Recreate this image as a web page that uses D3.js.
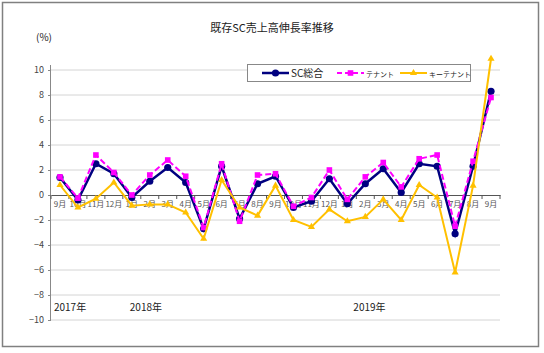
<!DOCTYPE html>
<html>
<head>
<meta charset="utf-8">
<script src="https://cdn.jsdelivr.net/npm/d3@7"></script>
<style>
  body { margin: 0; background: #fff; }
  svg text { font-family: "Noto Sans CJK JP", "Noto Sans", sans-serif; }
</style>
</head>
<body>
<div id="chart-area"></div>
<script>
// months, Sep 2017 - Sep 2019
const months = ['9月','10月','11月','12月','1月','2月','3月','4月','5月','6月','7月','8月',
                '9月','10月','11月','12月','1月','2月','3月','4月','5月','6月','7月','8月','9月'];
const scTotal = [1.4, -0.4, 2.5, 1.7, -0.2, 1.1, 2.2, 1.0, -2.7, 2.3, -1.9, 0.9,
                 1.5, -1.0, -0.5, 1.3, -0.7, 0.9, 2.1, 0.2, 2.5, 2.3, -3.1, 2.3, 8.3];
const tenant = [1.45, -0.25, 3.2, 1.8, 0.0, 1.6, 2.8, 1.5, -2.6, 2.5, -2.1, 1.6,
                1.7, -0.9, -0.2, 2.0, -0.35, 1.45, 2.6, 0.65, 2.9, 3.2, -2.5, 2.7, 7.8];
const keyTenant = [0.8, -1.0, -0.3, 1.0, -0.85, -0.75, -0.75, -1.4, -3.5, 1.2, -1.0, -1.65,
                   0.75, -2.0, -2.55, -1.15, -2.1, -1.75, -0.35, -2.0, 0.8, -0.2, -6.2, 0.75, 10.9];
const yTicks = [10, 8, 6, 4, 2, 0, -2, -4, -6, -8, -10];
const yearLabels = ['2017年', '2018年', '2019年'];
const yearIndex = [0, 4, 16];
const seriesNames = ['SC総合', 'テナント', 'キーテナント'];

const WIDTH = 544, HEIGHT = 353;
const MARGIN = {LEFT: 51, RIGHT: 44, TOP: 70, BOTTOM: 33};
const wGraph = WIDTH - MARGIN.LEFT - MARGIN.RIGHT;
const hGraph = HEIGHT - MARGIN.TOP - MARGIN.BOTTOM;

const svg = d3.select('#chart-area').append('svg')
    .attr('width', WIDTH)
    .attr('height', HEIGHT);

// outer frame
svg.append('rect')
    .attr('x', 2.5).attr('y', 2.5)
    .attr('width', 536).attr('height', 344)
    .attr('fill', '#fff')
    .attr('stroke', '#808080')
    .attr('stroke-width', 1.5);

svg.append('text')
    .attr('x', 272).attr('y', 32)
    .attr('text-anchor', 'middle')
    .attr('font-size', '11px')
    .attr('fill', '#222')
    .text('既存SC売上高伸長率推移');

svg.append('text')
    .attr('x', 36).attr('y', 41)
    .attr('font-size', '10px')
    .attr('fill', '#222')
    .text('(%)');

const g = svg.append('g')
    .attr('transform', `translate(${MARGIN.LEFT},${MARGIN.TOP})`);

const idx = months.map((d, i) => i);
const xScale = d3.scaleBand()
    .domain(idx)
    .range([0, wGraph]);
const xc = i => xScale(i) + xScale.bandwidth() / 2;

const yScale = d3.scaleLinear()
    .domain([-10, 10])
    .range([hGraph, 0]);

// grid lines
g.append('g')
    .selectAll('line')
    .data(yTicks.filter(d => d !== 0))
    .enter().append('line')
    .attr('x1', 0).attr('x2', wGraph)
    .attr('y1', d => yScale(d)).attr('y2', d => yScale(d))
    .attr('stroke', '#d4d4d4')
    .attr('stroke-width', 1);

// y axis
const yAxis = g.append('g')
    .call(d3.axisLeft(yScale).tickValues(yTicks).tickSize(3).tickPadding(4));
yAxis.select('.domain').attr('d', `M-0.5,-5V${hGraph}`).attr('stroke', '#888');
yAxis.selectAll('.tick line').attr('stroke', '#888');
yAxis.selectAll('text')
    .attr('font-size', '9px')
    .attr('fill', '#444');

// zero line with category ticks
const xAxis = g.append('g')
    .attr('transform', `translate(0,${yScale(0)})`)
    .call(d3.axisBottom(xScale).tickSize(0).tickFormat(i => months[i]).tickPadding(6));
xAxis.select('.domain').attr('stroke', '#555').attr('stroke-width', 1.2);
xAxis.selectAll('text')
    .attr('font-size', '8px')
    .attr('fill', '#555');
xAxis.selectAll('.sep')
    .data(idx.concat([months.length]))
    .enter().append('line')
    .attr('class', 'sep')
    .attr('x1', i => i < months.length ? xScale(i) : wGraph)
    .attr('x2', i => i < months.length ? xScale(i) : wGraph)
    .attr('y1', 0).attr('y2', 4)
    .attr('stroke', '#555');

// year labels
g.selectAll('.year')
    .data(yearLabels)
    .enter().append('text')
    .attr('class', 'year')
    .attr('x', (d, i) => xc(yearIndex[i]) + [-6, -2, 6][i])
    .attr('y', yScale(-8) + 16)
    .attr('font-size', '10px')
    .attr('fill', '#222')
    .text(d => d);

const line = d3.line()
    .x((d, i) => xc(i))
    .y(d => yScale(d));

// SC総合
g.append('path')
    .datum(scTotal)
    .attr('d', line)
    .attr('fill', 'none')
    .attr('stroke', '#000080')
    .attr('stroke-width', 2.5);
g.selectAll('.m-sc')
    .data(scTotal)
    .enter().append('circle')
    .attr('class', 'm-sc')
    .attr('cx', (d, i) => xc(i))
    .attr('cy', d => yScale(d))
    .attr('r', 3.6)
    .attr('fill', '#000080');

// テナント
g.append('path')
    .datum(tenant)
    .attr('d', line)
    .attr('fill', 'none')
    .attr('stroke', '#ff00ff')
    .attr('stroke-width', 2)
    .attr('stroke-dasharray', '6,3');
g.selectAll('.m-tn')
    .data(tenant)
    .enter().append('rect')
    .attr('class', 'm-tn')
    .attr('x', (d, i) => xc(i) - 2.8)
    .attr('y', d => yScale(d) - 2.8)
    .attr('width', 5.6).attr('height', 5.6)
    .attr('fill', '#ff00ff');

// キーテナント
const tri = d3.symbol().type(d3.symbolTriangle).size(22);
g.append('path')
    .datum(keyTenant)
    .attr('d', line)
    .attr('fill', 'none')
    .attr('stroke', '#ffc000')
    .attr('stroke-width', 2);
g.selectAll('.m-kt')
    .data(keyTenant)
    .enter().append('path')
    .attr('class', 'm-kt')
    .attr('d', tri)
    .attr('transform', (d, i) => `translate(${xc(i)},${yScale(d)})`)
    .attr('fill', '#ffc000');

// legend
const legend = svg.append('g').attr('transform', 'translate(247,64)');
legend.append('rect')
    .attr('x', 0.5).attr('y', 0.5)
    .attr('width', 223).attr('height', 17)
    .attr('fill', '#fff')
    .attr('stroke', '#888');
const legendX = [15, 90, 153];
const legendColors = ['#000080', '#ff00ff', '#ffc000'];
seriesNames.forEach((name, i) => {
    const lg = legend.append('g').attr('transform', `translate(${legendX[i]},9)`);
    lg.append('line')
        .attr('x1', 0).attr('x2', 27)
        .attr('stroke', legendColors[i])
        .attr('stroke-width', i === 0 ? 2.5 : 2)
        .attr('stroke-dasharray', i === 1 ? '5,3' : null);
    if (i === 0) {
        lg.append('circle').attr('cx', 13.5).attr('r', 3.6).attr('fill', legendColors[i]);
    } else if (i === 1) {
        lg.append('rect').attr('x', 10.7).attr('y', -2.8).attr('width', 5.6).attr('height', 5.6).attr('fill', legendColors[i]);
    } else {
        lg.append('path').attr('d', tri).attr('transform', 'translate(13.5,0)').attr('fill', legendColors[i]);
    }
    lg.append('text')
        .attr('x', 29).attr('y', 3.5)
        .attr('font-size', i === 0 ? '10px' : '7px')
        .attr('fill', '#222')
        .text(name);
});
</script>
</body>
</html>
